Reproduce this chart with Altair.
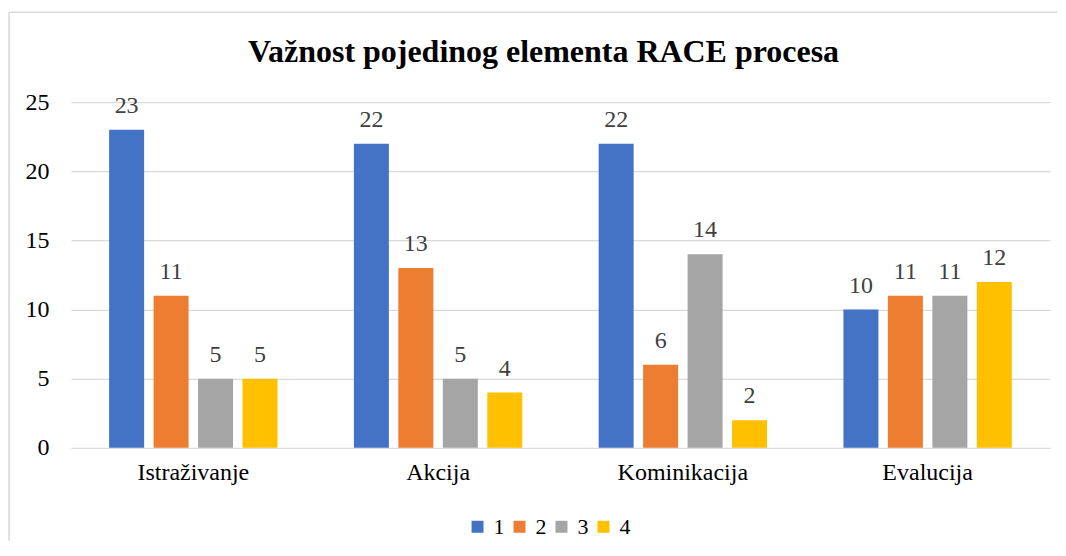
import altair as alt
import pandas as pd

categories = ["Istraživanje", "Akcija", "Kominikacija", "Evalucija"]
series = ["1", "2", "3", "4"]
values_1 = [23, 22, 22, 10]
values_2 = [11, 13, 6, 11]
values_3 = [5, 5, 14, 11]
values_4 = [5, 4, 2, 12]
colors = ["#4472C4", "#ED7D31", "#A5A5A5", "#FFC000"]
y_ticks = [0, 5, 10, 15, 20, 25]
title_text = "Važnost pojedinog elementa RACE procesa"

all_vals = {"1": values_1, "2": values_2, "3": values_3, "4": values_4}
rows = [{"kat": c, "ser": s, "val": all_vals[s][i]}
        for s in series for i, c in enumerate(categories)]
df = pd.DataFrame(rows)

FONT = "Liberation Serif"

base = alt.Chart(df).encode(
    x=alt.X("kat:N", sort=categories,
            scale=alt.Scale(paddingInner=0.312, paddingOuter=0.156),
            axis=alt.Axis(title=None, labelAngle=0, domain=False, ticks=False,
                          labelFont=FONT, labelFontSize=24, labelColor="#000000",
                          labelPadding=13, grid=False)),
    xOffset=alt.XOffset("ser:N", sort=series,
                        scale=alt.Scale(paddingInner=0.213, paddingOuter=0)),
)

bars = base.mark_bar().encode(
    y=alt.Y("val:Q", scale=alt.Scale(domain=[0, 25], nice=False),
            axis=alt.Axis(title=None, values=y_ticks, domain=False, ticks=False,
                          gridColor="#d9d9d9", gridWidth=1.3,
                          labelFont=FONT, labelFontSize=24, labelColor="#000000",
                          labelPadding=22)),
    color=alt.Color("ser:N", scale=alt.Scale(domain=series, range=colors),
                    legend=alt.Legend(title=None, orient="none", legendX=396, legendY=414,
                                      direction="horizontal", symbolType="square",
                                      symbolSize=144, symbolStrokeWidth=0,
                                      labelFont=FONT, labelFontSize=22,
                                      labelColor="#000000", labelOffset=5,
                                      columnPadding=4)),
)

labels = base.mark_text(dy=-17, baseline="alphabetic", font=FONT, fontSize=24,
                        color="#404040").encode(
    y=alt.Y("val:Q"),
    text=alt.Text("val:Q"),
)

frame_df = pd.DataFrame({"k": [0]})
left_border = alt.Chart(frame_df).mark_rule(color="#d9d9d9", strokeWidth=1.5).encode(
    x=alt.value(-62), y=alt.value(-90), y2=alt.value(439))
top_border = alt.Chart(frame_df).mark_rule(color="#d9d9d9", strokeWidth=1.5).encode(
    x=alt.value(-62), x2=alt.value(987), y=alt.value(-90))

title_df = pd.DataFrame({"t": [title_text]})
title_mark = alt.Chart(title_df).mark_text(
    font=FONT, fontSize=32, fontWeight="bold", color="#000000",
    align="center", baseline="alphabetic").encode(
    x=alt.value(473), y=alt.value(-40), text="t:N")

chart = alt.layer(left_border, top_border, title_mark, bars, labels).properties(
    width=980, height=346,
    padding={"left": 0, "top": 3, "right": 0, "bottom": 0},
).configure(font=FONT).configure_view(strokeWidth=0)

chart.save("out.html", embed_options={"renderer": "svg", "actions": False})
